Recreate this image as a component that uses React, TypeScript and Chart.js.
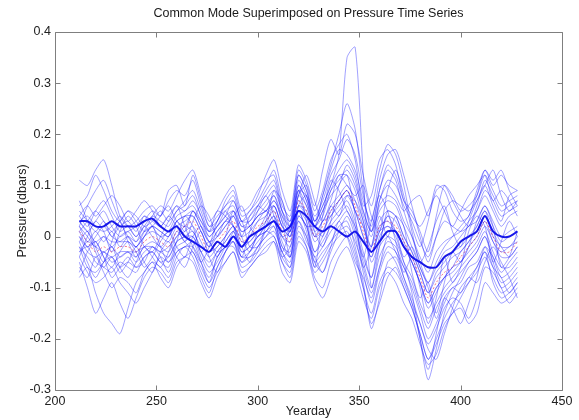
import React, { useEffect, useRef } from "react";
import { Chart, registerables } from "chart.js";

Chart.register(...registerables);

const titleText = "Common Mode Superimposed on Pressure Time Series";
const xTitle = "Yearday";
const yTitle = "Pressure (dbars)";

const days = [212, 216, 220, 224, 228, 232, 236, 240, 244, 248, 252,
  256, 260, 264, 268, 272, 276, 280, 284, 288, 292, 296,
  300, 304, 308, 312, 316, 320, 324, 328, 332, 336, 340,
  344, 348, 352, 356, 360, 364, 368, 372, 376, 380, 384,
  388, 392, 396, 400, 404, 408, 412, 416, 420, 424, 428];

const commonMode = [0.01, -0.01, -0.03, -0.02, -0.03, -0.02, -0.02, -0.03, -0.01, 0.0, -0.01,
  -0.02, 0.01, 0.02, 0.03, 0.0, -0.03, -0.01, 0.01, 0.03, -0.01, 0.0,
  0.02, 0.03, 0.05, 0.01, -0.01, 0.07, 0.05, 0.0, 0.02, 0.05, 0.07,
  0.09, 0.06, 0.01, -0.03, 0.02, 0.03, 0.02, -0.01, -0.04, -0.08, -0.12,
  -0.09, -0.07, -0.06, -0.04, -0.02, 0.0, 0.03, 0.0, -0.03, -0.03, -0.01];

const thickSeries = [0.03, 0.03, 0.02, 0.02, 0.03, 0.02, 0.02, 0.02, 0.03, 0.035, 0.02,
  0.01, 0.02, 0.0, -0.01, -0.02, -0.03, -0.01, -0.02, 0.0, -0.02, 0.0,
  0.01, 0.02, 0.03, 0.01, 0.02, 0.05, 0.04, 0.02, 0.01, 0.02, 0.01,
  0.0, 0.01, -0.01, -0.03, -0.01, 0.01, 0.01, -0.02, -0.04, -0.05, -0.06,
  -0.06, -0.04, -0.03, -0.01, 0.0, 0.01, 0.04, 0.01, 0.0, 0.0, 0.01];

const p01 = [0.11, 0.10, 0.13, 0.15, 0.10, 0.04, 0.02, 0.03, 0.05, 0.06, 0.04,
  0.07, 0.09, 0.08, 0.11, 0.06, 0.02, 0.04, 0.06, 0.08, 0.03, 0.05,
  0.07, 0.10, 0.13, 0.07, 0.03, 0.12, 0.09, 0.04, 0.07, 0.12, 0.15,
  0.19, 0.16, 0.08, 0.02, 0.09, 0.14, 0.12, 0.07, 0.05, 0.01, -0.03,
  0.04, 0.10, 0.08, 0.05, 0.06, 0.08, 0.12, 0.09, 0.06, 0.07, 0.08];
const p02 = [-0.05, -0.10, -0.15, -0.12, -0.09, -0.13, -0.16, -0.12, -0.08, -0.06, -0.07,
  -0.09, -0.05, -0.04, -0.03, -0.07, -0.10, -0.07, -0.05, -0.03, -0.07, -0.06,
  -0.04, -0.02, -0.01, -0.05, -0.07, 0.01, -0.02, -0.08, -0.10, -0.05, -0.02,
  0.0, -0.04, -0.10, -0.15, -0.09, -0.06, -0.07, -0.10, -0.14, -0.19, -0.24,
  -0.20, -0.16, -0.13, -0.11, -0.09, -0.07, -0.04, -0.08, -0.11, -0.10, -0.08];
const p03 = [0.03, 0.01, -0.01, 0.0, -0.02, 0.0, 0.01, -0.01, 0.01, 0.02, 0.01,
  0.0, 0.03, 0.04, 0.05, 0.02, -0.01, 0.01, 0.03, 0.05, 0.01, 0.02,
  0.04, 0.06, 0.08, 0.03, 0.01, 0.09, 0.08, 0.03, 0.06, 0.10, 0.16,
  0.35, 0.37, 0.12, -0.10, -0.02, 0.05, 0.04, 0.0, -0.03, -0.07, -0.11,
  -0.07, -0.05, -0.03, -0.02, 0.0, 0.02, 0.05, 0.02, -0.01, 0.0, 0.01];
const p04 = [-0.02, -0.04, -0.06, -0.03, -0.05, -0.04, -0.03, -0.05, -0.03, -0.02, -0.03,
  -0.04, -0.01, 0.0, 0.01, -0.03, -0.06, -0.03, -0.01, 0.01, -0.03, -0.02,
  0.0, 0.02, 0.04, -0.01, -0.04, 0.05, 0.03, -0.03, 0.0, 0.03, 0.05,
  0.07, 0.03, -0.03, -0.08, 0.0, 0.02, 0.0, -0.05, -0.11, -0.20, -0.28,
  -0.22, -0.15, -0.11, -0.08, -0.05, -0.03, 0.0, -0.04, -0.08, -0.07, -0.05];
const p05 = [0.04, 0.02, 0.05, 0.07, 0.04, 0.01, 0.02, 0.0, 0.03, 0.05, 0.04,
  0.09, 0.10, 0.06, 0.12, 0.07, 0.02, 0.03, 0.07, 0.09, 0.04, 0.05,
  0.08, 0.12, 0.15, 0.09, 0.05, 0.14, 0.11, 0.06, 0.13, 0.19, 0.16,
  0.22, 0.20, 0.12, 0.06, 0.13, 0.18, 0.16, 0.10, 0.02, -0.02, 0.03,
  0.10, 0.09, 0.05, 0.03, 0.04, 0.09, 0.13, 0.10, 0.12, 0.10, 0.09];
const p06 = [-0.08, -0.06, -0.11, -0.15, -0.17, -0.19, -0.14, -0.09, -0.07, -0.05, -0.06,
  -0.08, -0.04, -0.02, -0.04, -0.08, -0.11, -0.06, -0.03, -0.01, -0.06, -0.05,
  -0.02, 0.0, 0.02, -0.04, -0.06, 0.03, 0.0, -0.06, -0.04, -0.01, 0.02,
  0.03, -0.02, -0.09, -0.18, -0.12, -0.05, -0.04, -0.08, -0.12, -0.17, -0.21,
  -0.18, -0.14, -0.12, -0.13, -0.16, -0.12, -0.06, -0.07, -0.10, -0.13, -0.11];
const p07 = [0.05, 0.03, 0.01, 0.03, 0.0, 0.02, 0.03, 0.01, 0.04, 0.03, 0.02,
  0.04, 0.06, 0.05, 0.07, 0.04, 0.0, 0.02, 0.05, 0.06, 0.02, 0.03,
  0.05, 0.07, 0.09, 0.05, 0.02, 0.11, 0.08, 0.02, 0.05, 0.08, 0.10,
  0.14, 0.11, 0.04, 0.0, 0.06, 0.08, 0.07, 0.03, 0.0, -0.04, -0.07,
  -0.03, -0.01, 0.0, 0.01, 0.03, 0.05, 0.08, 0.05, 0.02, 0.04, 0.05];
const p08 = [-0.03, -0.02, -0.05, -0.06, -0.07, -0.05, -0.06, -0.07, -0.04, -0.03, -0.05,
  -0.06, -0.02, -0.01, 0.0, -0.04, -0.07, -0.05, -0.02, 0.0, -0.04, -0.03,
  -0.01, 0.01, 0.02, -0.03, -0.05, 0.04, 0.02, -0.04, -0.02, 0.01, 0.03,
  0.05, 0.01, -0.05, -0.10, -0.04, -0.01, -0.02, -0.06, -0.09, -0.14, -0.18,
  -0.14, -0.11, -0.09, -0.07, -0.05, -0.03, 0.0, -0.05, -0.09, -0.08, -0.06];
const p09 = [0.02, 0.06, 0.09, 0.11, 0.07, 0.03, 0.0, -0.02, 0.01, 0.04, 0.06,
  0.05, 0.08, 0.11, 0.13, 0.08, 0.03, 0.05, 0.08, 0.10, 0.05, 0.06,
  0.09, 0.11, 0.12, 0.06, 0.04, 0.13, 0.10, 0.03, 0.08, 0.13, 0.17,
  0.16, 0.13, 0.07, 0.03, 0.11, 0.16, 0.17, 0.12, 0.06, 0.0, -0.05,
  0.0, 0.05, 0.07, 0.06, 0.05, 0.07, 0.10, 0.13, 0.08, 0.05, 0.07];
const p10 = [-0.06, -0.08, -0.04, -0.07, -0.10, -0.08, -0.09, -0.11, -0.07, -0.05, -0.08,
  -0.10, -0.06, -0.04, -0.05, -0.09, -0.12, -0.08, -0.05, -0.03, -0.08, -0.06,
  -0.04, -0.03, -0.01, -0.07, -0.09, -0.01, -0.03, -0.09, -0.12, -0.08, -0.04,
  -0.02, -0.06, -0.12, -0.16, -0.10, -0.07, -0.09, -0.13, -0.16, -0.21, -0.25,
  -0.23, -0.18, -0.15, -0.14, -0.17, -0.15, -0.09, -0.11, -0.13, -0.12, -0.10];
const p11 = [0.02, 0.0, -0.02, 0.0, -0.01, -0.01, 0.0, -0.02, 0.0, 0.01, 0.0,
  -0.01, 0.02, 0.03, 0.04, 0.01, -0.02, 0.0, 0.02, 0.04, 0.0, 0.01,
  0.03, 0.04, 0.06, 0.02, 0.0, 0.08, 0.06, 0.01, 0.03, 0.06, 0.08,
  0.10, 0.07, 0.02, -0.02, 0.03, 0.05, 0.04, 0.0, -0.03, -0.07, -0.11,
  -0.08, -0.06, -0.04, -0.03, -0.01, 0.01, 0.04, 0.01, -0.02, -0.02, 0.0];
const p12 = [0.0, -0.03, -0.04, -0.03, -0.04, -0.03, -0.03, -0.04, -0.02, -0.01, -0.02,
  -0.03, 0.0, 0.01, 0.02, -0.01, -0.04, -0.02, 0.0, 0.02, -0.02, -0.01,
  0.01, 0.02, 0.04, 0.0, -0.02, 0.06, 0.04, -0.01, 0.01, 0.04, 0.06,
  0.08, 0.05, 0.0, -0.04, 0.01, 0.02, 0.01, -0.02, -0.05, -0.09, -0.13,
  -0.10, -0.08, -0.07, -0.05, -0.03, -0.01, 0.02, -0.01, -0.04, -0.04, -0.02];
const p13 = [-0.01, -0.05, -0.08, -0.05, -0.02, -0.06, -0.08, -0.05, -0.02, -0.04, -0.06,
  -0.03, 0.01, -0.01, -0.03, -0.06, -0.09, -0.04, -0.02, -0.02, -0.05, -0.03,
  0.0, 0.01, 0.03, -0.02, -0.03, 0.05, 0.01, -0.05, -0.07, -0.03, 0.01,
  0.04, 0.0, -0.07, -0.13, -0.07, -0.03, -0.05, -0.09, -0.13, -0.17, -0.22,
  -0.24, -0.19, -0.14, -0.10, -0.08, -0.06, -0.03, -0.06, -0.08, -0.11, -0.09];
const p14 = [0.06, 0.08, 0.12, 0.09, 0.05, 0.03, 0.05, 0.04, 0.02, 0.03, 0.05,
  0.03, 0.05, 0.07, 0.09, 0.05, 0.01, 0.02, 0.04, 0.07, 0.03, 0.03,
  0.06, 0.09, 0.11, 0.05, 0.01, 0.10, 0.07, 0.02, 0.04, 0.09, 0.12,
  0.12, 0.09, 0.03, -0.02, 0.07, 0.10, 0.08, 0.05, 0.07, 0.08, 0.04,
  0.09, 0.10, 0.07, 0.04, 0.02, 0.06, 0.11, 0.08, 0.05, 0.06, 0.07];
const p15 = [-0.04, -0.07, -0.09, -0.08, -0.06, -0.09, -0.11, -0.13, -0.10, -0.07, -0.04,
  -0.05, -0.03, -0.02, -0.02, -0.05, -0.08, -0.04, -0.02, -0.01, -0.04, -0.04,
  -0.02, 0.0, 0.01, -0.03, -0.06, 0.02, 0.0, -0.05, -0.03, -0.01, 0.01,
  0.02, -0.01, -0.06, -0.11, -0.06, -0.02, -0.03, -0.08, -0.13, -0.20, -0.26,
  -0.19, -0.12, -0.10, -0.09, -0.06, -0.05, -0.02, -0.06, -0.10, -0.09, -0.07];
const p16 = [0.03, 0.01, 0.03, 0.05, 0.02, 0.0, 0.01, 0.02, 0.04, 0.02, 0.0,
  0.01, 0.04, 0.05, 0.06, 0.03, 0.0, 0.02, 0.04, 0.05, 0.02, 0.02,
  0.04, 0.05, 0.07, 0.04, 0.02, 0.10, 0.07, 0.02, 0.08, 0.14, 0.20,
  0.26, 0.21, 0.09, 0.01, 0.05, 0.07, 0.06, 0.02, -0.02, -0.06, -0.09,
  -0.06, -0.03, -0.02, 0.0, 0.02, 0.03, 0.06, 0.03, 0.0, 0.01, 0.02];
const p17 = [-0.07, -0.03, -0.01, -0.04, -0.08, -0.06, -0.04, -0.06, -0.05, -0.02, -0.04,
  -0.07, -0.03, -0.02, -0.01, -0.05, -0.09, -0.06, -0.03, -0.01, -0.05, -0.04,
  -0.03, -0.01, 0.0, -0.05, -0.08, 0.0, -0.02, -0.07, -0.05, -0.02, 0.0,
  0.01, -0.03, -0.10, -0.17, -0.13, -0.08, -0.06, -0.10, -0.14, -0.19, -0.24,
  -0.21, -0.17, -0.15, -0.12, -0.09, -0.06, -0.03, -0.09, -0.12, -0.11, -0.09];
const p18 = [0.01, -0.02, 0.0, 0.02, 0.0, -0.01, -0.01, -0.02, 0.0, 0.02, 0.01,
  0.0, 0.03, 0.04, 0.04, 0.01, -0.02, 0.01, 0.03, 0.04, 0.01, 0.02,
  0.04, 0.05, 0.06, 0.02, 0.01, 0.09, 0.06, 0.02, 0.05, 0.09, 0.11,
  0.13, 0.10, 0.05, 0.01, 0.09, 0.13, 0.11, 0.05, 0.0, -0.05, -0.09,
  -0.05, -0.02, 0.0, 0.02, 0.04, 0.08, 0.13, 0.11, 0.13, 0.09, 0.06];
const p19 = [-0.02, -0.06, -0.07, -0.05, -0.04, -0.06, -0.05, -0.06, -0.04, -0.03, -0.05,
  -0.04, -0.01, 0.0, 0.0, -0.03, -0.05, -0.03, -0.01, 0.01, -0.03, -0.02,
  0.0, 0.01, 0.03, -0.02, -0.04, 0.04, 0.02, -0.03, -0.01, 0.02, 0.04,
  0.06, 0.02, -0.04, -0.08, -0.02, 0.0, -0.01, -0.05, -0.08, -0.13, -0.16,
  -0.13, -0.10, -0.08, -0.06, -0.04, -0.02, 0.01, -0.03, -0.06, -0.06, -0.04];
const p20 = [0.03, 0.04, 0.02, 0.01, 0.02, 0.04, 0.02, 0.0, 0.02, 0.04, 0.03,
  0.02, 0.05, 0.06, 0.08, 0.04, 0.01, 0.03, 0.06, 0.07, 0.03, 0.04,
  0.06, 0.08, 0.10, 0.05, 0.03, 0.12, 0.09, 0.03, 0.06, 0.10, 0.13,
  0.15, 0.12, 0.05, 0.01, 0.07, 0.11, 0.10, 0.06, 0.03, -0.01, -0.04,
  0.0, 0.03, 0.02, 0.01, 0.02, 0.05, 0.09, 0.07, 0.04, 0.05, 0.06];
const p21 = [-0.04, 0.0, 0.03, 0.01, -0.03, 0.01, 0.04, 0.02, -0.02, -0.03, 0.0,
  0.03, 0.06, 0.02, -0.02, -0.05, -0.02, 0.03, 0.05, 0.02, -0.04, 0.01,
  0.05, 0.08, 0.04, -0.03, 0.02, 0.09, 0.03, -0.06, 0.04, 0.11, 0.09,
  0.05, 0.02, -0.04, 0.03, 0.08, 0.05, -0.01, -0.07, -0.04, -0.10, -0.17,
  -0.12, -0.04, -0.09, -0.06, 0.01, 0.04, 0.02, -0.05, -0.01, 0.03, 0.0];
const p22 = [0.07, 0.03, -0.02, -0.05, -0.01, 0.03, -0.01, -0.04, 0.0, 0.02, -0.02,
  -0.05, -0.01, 0.04, 0.02, -0.03, -0.01, -0.04, 0.0, 0.05, 0.0, -0.03,
  0.01, 0.04, 0.07, 0.03, -0.04, 0.06, 0.08, 0.01, -0.02, 0.03, 0.10,
  0.12, 0.04, -0.06, -0.02, 0.04, 0.0, 0.04, 0.02, -0.07, -0.12, -0.09,
  -0.15, -0.09, -0.03, -0.05, -0.02, 0.03, 0.06, 0.02, -0.06, -0.04, 0.01];
const p23 = [0.0, -0.02, -0.01, -0.04, -0.06, -0.03, -0.01, -0.03, -0.06, -0.04, -0.01,
  0.01, -0.02, -0.04, 0.0, 0.02, -0.01, -0.03, -0.02, 0.01, 0.03, -0.02,
  -0.02, 0.02, 0.06, 0.02, 0.0, 0.05, 0.02, 0.02, 0.0, 0.06, 0.04,
  0.08, 0.07, 0.03, -0.05, -0.01, 0.04, 0.01, -0.04, -0.02, -0.06, -0.10,
  -0.16, -0.12, -0.14, -0.17, -0.13, -0.08, -0.02, -0.04, -0.07, -0.05, -0.03];
const p24 = [0.04, 0.06, 0.04, 0.06, 0.08, 0.06, 0.03, 0.05, 0.07, 0.05, 0.02,
  0.04, 0.02, -0.01, 0.03, 0.06, 0.04, 0.0, 0.02, 0.04, 0.06, 0.02,
  0.0, 0.03, 0.09, 0.07, 0.02, 0.08, 0.12, 0.07, 0.03, 0.07, 0.12,
  0.10, 0.08, 0.10, 0.04, 0.01, 0.09, 0.13, 0.08, 0.01, -0.05, -0.02,
  0.03, 0.06, 0.01, -0.02, 0.03, 0.07, 0.10, 0.06, 0.03, 0.08, 0.09];
const p25 = [-0.01, 0.01, -0.03, -0.06, -0.04, -0.07, -0.05, -0.02, -0.05, -0.07, -0.03,
  -0.01, -0.04, -0.06, -0.02, 0.01, -0.04, -0.07, -0.03, 0.0, -0.02, -0.05,
  -0.03, 0.01, 0.0, -0.04, -0.02, 0.03, -0.01, -0.04, -0.07, -0.02, 0.03,
  0.0, -0.05, -0.08, -0.12, -0.06, 0.0, -0.03, -0.06, -0.10, -0.15, -0.20,
  -0.17, -0.13, -0.10, -0.11, -0.08, -0.09, -0.05, -0.02, -0.05, -0.08, -0.12];
const p26 = [0.02, -0.01, 0.01, -0.01, 0.01, -0.02, 0.0, -0.01, 0.02, 0.0, -0.02,
  0.0, 0.03, 0.01, 0.05, 0.02, -0.01, 0.0, 0.03, 0.02, -0.02, 0.0,
  0.03, 0.05, 0.03, 0.0, 0.01, 0.07, 0.04, 0.0, 0.03, 0.04, 0.07,
  0.09, 0.05, 0.02, -0.03, 0.01, 0.04, 0.03, -0.01, -0.05, -0.09, -0.14,
  -0.11, -0.08, -0.06, -0.03, -0.01, 0.02, 0.05, 0.0, -0.02, -0.04, -0.02];
const p27 = [-0.03, -0.01, -0.02, -0.03, -0.02, -0.04, -0.03, -0.03, -0.02, -0.02, -0.03,
  -0.02, 0.0, 0.02, 0.01, -0.02, -0.03, -0.02, 0.0, 0.02, -0.01, -0.01,
  0.01, 0.03, 0.05, 0.0, -0.01, 0.06, 0.05, 0.0, 0.01, 0.05, 0.07,
  0.09, 0.05, 0.0, -0.04, 0.02, 0.03, 0.01, -0.02, -0.05, -0.09, -0.13,
  -0.10, -0.08, -0.06, -0.05, -0.02, 0.0, 0.03, -0.01, -0.03, -0.02, -0.01];
const p28 = [0.01, 0.03, 0.05, 0.03, 0.01, 0.03, 0.05, 0.03, 0.01, 0.02, 0.04,
  0.06, 0.03, 0.02, 0.05, 0.03, 0.01, 0.05, 0.04, 0.02, 0.0, 0.04,
  0.06, 0.05, 0.08, 0.04, 0.0, 0.08, 0.10, 0.05, 0.09, 0.15, 0.18,
  0.20, 0.15, 0.06, 0.08, 0.15, 0.17, 0.14, 0.07, 0.04, 0.02, 0.05,
  0.08, 0.05, 0.02, 0.05, 0.08, 0.10, 0.12, 0.07, 0.09, 0.07, 0.04];

const thinSeries = [p01, p02, p03, p04, p05, p06, p07, p08, p09, p10,
  p11, p12, p13, p14, p15, p16, p17, p18, p19, p20,
  p21, p22, p23, p24, p25, p26, p27, p28];

const FONT = "'Liberation Sans', Arial, Helvetica, sans-serif";

const toPoints = (vals: number[]) => vals.map((v, i) => ({ x: days[i], y: v }));

const boxPlugin = {
  id: "matlabBox",
  afterDatasetsDraw(chart: any) {
    const { ctx, chartArea, scales } = chart;
    const { left, right, top, bottom } = chartArea;
    const xs = scales.x;
    const ys = scales.y;
    const tick = 5;
    ctx.save();
    ctx.strokeStyle = "#7f7f7f";
    ctx.lineWidth = 1;
    ctx.beginPath();
    const L = Math.round(left) + 0.5;
    const R = Math.round(right) + 0.5;
    const T = Math.round(top) + 0.5;
    const B = Math.round(bottom) + 0.5;
    ctx.rect(L, T, R - L, B - T);
    xs.ticks.forEach((t: any) => {
      const px = Math.round(xs.getPixelForValue(t.value)) + 0.5;
      ctx.moveTo(px, B);
      ctx.lineTo(px, B - tick);
      ctx.moveTo(px, T);
      ctx.lineTo(px, T + tick);
    });
    ys.ticks.forEach((t: any) => {
      const py = Math.round(ys.getPixelForValue(t.value)) + 0.5;
      ctx.moveTo(L, py);
      ctx.lineTo(L + tick, py);
      ctx.moveTo(R, py);
      ctx.lineTo(R - tick, py);
    });
    ctx.stroke();
    ctx.restore();
  },
};

export default function App() {
  const ref = useRef<HTMLCanvasElement | null>(null);

  useEffect(() => {
    if (!ref.current) return;
    Chart.defaults.font.family = FONT;
    const datasets: any[] = thinSeries.map((vals, k) => ({
      label: "p" + (k + 1),
      data: toPoints(vals),
      borderColor: "rgba(20,20,255,0.4)",
      borderWidth: 1,
      pointRadius: 0,
      tension: 0.25,
      fill: false,
    }));
    datasets.push({
      label: "thick",
      data: toPoints(thickSeries),
      borderColor: "rgba(0,0,225,0.9)",
      borderWidth: 2,
      pointRadius: 0,
      tension: 0.25,
      fill: false,
    });
    datasets.push({
      label: "common mode",
      data: toPoints(commonMode),
      borderColor: "rgba(235,60,90,0.7)",
      borderWidth: 1,
      borderDash: [2, 2],
      pointRadius: 0,
      tension: 0.25,
      fill: false,
    });

    const chart = new Chart(ref.current, {
      type: "line",
      data: { datasets },
      plugins: [boxPlugin],
      options: {
        animation: false,
        responsive: false,
        devicePixelRatio: 1,
        events: [],
        layout: { padding: { left: 0, right: 17, top: 0, bottom: 0 } },
        plugins: {
          legend: { display: false },
          tooltip: { enabled: false },
          title: {
            display: true,
            text: titleText,
            fullSize: false,
            color: "#1a1a1a",
            font: { size: 12.5, weight: "normal", family: FONT },
            padding: { top: 6, bottom: 11 },
          },
        },
        scales: {
          x: {
            type: "linear",
            min: 200,
            max: 450,
            afterFit: (s: any) => { s.height = 30; },
            ticks: {
              stepSize: 50,
              autoSkip: false,
              maxRotation: 0,
              padding: 4,
              color: "#222",
              font: { size: 12.5, family: FONT },
            },
            grid: { display: false, drawTicks: false },
            border: { display: false },
            title: {
              display: true,
              text: xTitle,
              color: "#222",
              font: { size: 12.5, family: FONT },
              padding: { top: 0, bottom: 1 },
            },
          },
          y: {
            type: "linear",
            min: -0.3,
            max: 0.4,
            afterFit: (s: any) => { s.width = 55; },
            ticks: {
              stepSize: 0.1,
              autoSkip: false,
              padding: 4,
              color: "#222",
              font: { size: 12.5, family: FONT },
              callback: (v: any) => String(Number(Number(v).toFixed(1))),
            },
            grid: { display: false, drawTicks: false },
            border: { display: false },
            title: {
              display: true,
              text: yTitle,
              color: "#222",
              font: { size: 12.5, family: FONT },
              padding: { top: 15, bottom: 0 },
            },
          },
        },
      },
    });
    return () => chart.destroy();
  }, []);

  return (
    <div style={{ position: "absolute", left: 0, top: 0, width: 579, height: 420, background: "#fff" }}>
      <canvas ref={ref} width={579} height={420} style={{ width: 579, height: 420, display: "block" }} />
    </div>
  );
}
